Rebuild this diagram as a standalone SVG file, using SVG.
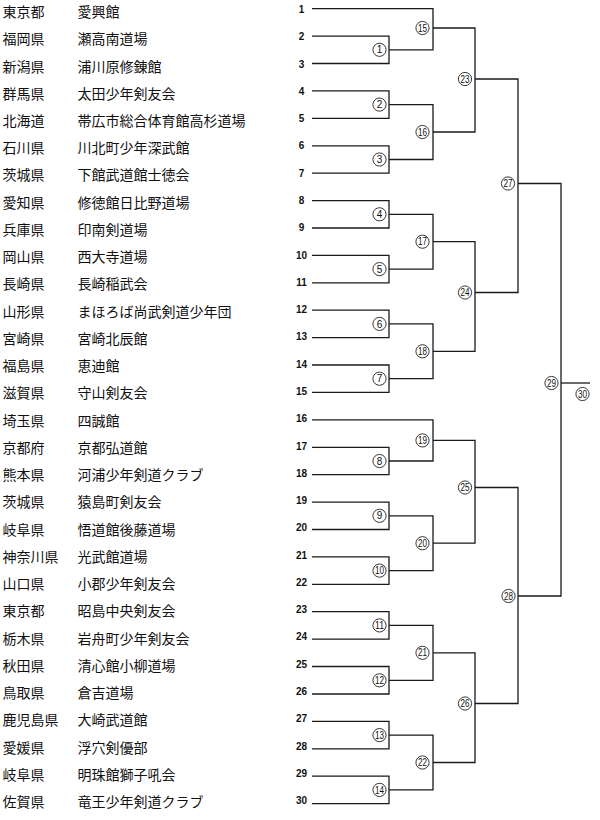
<svg xmlns="http://www.w3.org/2000/svg" width="600" height="820" viewBox="0 0 600 820">
<style>
.t{font-family:"Noto Sans CJK JP","Noto Sans CJK SC",sans-serif;font-size:14px;fill:#111}
.n{font-family:"Liberation Sans",Arial,sans-serif;font-size:10px;font-weight:bold;fill:#111;text-anchor:middle}
.c{fill:#fff;stroke:#222;stroke-width:0.9}
.cn{font-family:"Liberation Sans",Arial,sans-serif;font-size:10px;fill:#111;text-anchor:middle}
.ln{fill:none;stroke:#1a1a1a;stroke-width:1.3}
</style>
<rect width="600" height="820" fill="#fff"/>
<g id="teams">
<g id="team-1"><text class="t" x="2.5" y="17">東京都</text><text class="t" x="77.5" y="17">愛興館</text><text class="n" x="301.5" y="13">1</text></g>
<g id="team-2"><text class="t" x="2.5" y="44.2">福岡県</text><text class="t" x="77.5" y="44.2">瀬高南道場</text><text class="n" x="301.5" y="40.3">2</text></g>
<g id="team-3"><text class="t" x="2.5" y="71.5">新潟県</text><text class="t" x="77.5" y="71.5">浦川原修錬館</text><text class="n" x="301.5" y="67.6">3</text></g>
<g id="team-4"><text class="t" x="2.5" y="98.7">群馬県</text><text class="t" x="77.5" y="98.7">太田少年剣友会</text><text class="n" x="301.5" y="94.8">4</text></g>
<g id="team-5"><text class="t" x="2.5" y="126">北海道</text><text class="t" x="77.5" y="126">帯広市総合体育館高杉道場</text><text class="n" x="301.5" y="122.1">5</text></g>
<g id="team-6"><text class="t" x="2.5" y="153.2">石川県</text><text class="t" x="77.5" y="153.2">川北町少年深武館</text><text class="n" x="301.5" y="149.4">6</text></g>
<g id="team-7"><text class="t" x="2.5" y="180.4">茨城県</text><text class="t" x="77.5" y="180.4">下館武道館士徳会</text><text class="n" x="301.5" y="176.7">7</text></g>
<g id="team-8"><text class="t" x="2.5" y="207.7">愛知県</text><text class="t" x="77.5" y="207.7">修徳館日比野道場</text><text class="n" x="301.5" y="204">8</text></g>
<g id="team-9"><text class="t" x="2.5" y="234.9">兵庫県</text><text class="t" x="77.5" y="234.9">印南剣道場</text><text class="n" x="301.5" y="231.2">9</text></g>
<g id="team-10"><text class="t" x="2.5" y="262.2">岡山県</text><text class="t" x="77.5" y="262.2">西大寺道場</text><text class="n" x="301.5" y="258.5">10</text></g>
<g id="team-11"><text class="t" x="2.5" y="289.4">長崎県</text><text class="t" x="77.5" y="289.4">長崎稲武会</text><text class="n" x="301.5" y="285.8">11</text></g>
<g id="team-12"><text class="t" x="2.5" y="316.6">山形県</text><text class="t" x="77.5" y="316.6">まほろば尚武剣道少年団</text><text class="n" x="301.5" y="313.1">12</text></g>
<g id="team-13"><text class="t" x="2.5" y="343.9">宮崎県</text><text class="t" x="77.5" y="343.9">宮崎北辰館</text><text class="n" x="301.5" y="340.4">13</text></g>
<g id="team-14"><text class="t" x="2.5" y="371.1">福島県</text><text class="t" x="77.5" y="371.1">恵迪館</text><text class="n" x="301.5" y="367.6">14</text></g>
<g id="team-15"><text class="t" x="2.5" y="398.4">滋賀県</text><text class="t" x="77.5" y="398.4">守山剣友会</text><text class="n" x="301.5" y="394.9">15</text></g>
<g id="team-16"><text class="t" x="2.5" y="425.6">埼玉県</text><text class="t" x="77.5" y="425.6">四誠館</text><text class="n" x="301.5" y="422.2">16</text></g>
<g id="team-17"><text class="t" x="2.5" y="452.8">京都府</text><text class="t" x="77.5" y="452.8">京都弘道館</text><text class="n" x="301.5" y="449.5">17</text></g>
<g id="team-18"><text class="t" x="2.5" y="480.1">熊本県</text><text class="t" x="77.5" y="480.1">河浦少年剣道クラブ</text><text class="n" x="301.5" y="476.8">18</text></g>
<g id="team-19"><text class="t" x="2.5" y="507.3">茨城県</text><text class="t" x="77.5" y="507.3">猿島町剣友会</text><text class="n" x="301.5" y="504">19</text></g>
<g id="team-20"><text class="t" x="2.5" y="534.6">岐阜県</text><text class="t" x="77.5" y="534.6">悟道館後藤道場</text><text class="n" x="301.5" y="531.3">20</text></g>
<g id="team-21"><text class="t" x="2.5" y="561.8">神奈川県</text><text class="t" x="77.5" y="561.8">光武館道場</text><text class="n" x="301.5" y="558.6">21</text></g>
<g id="team-22"><text class="t" x="2.5" y="589">山口県</text><text class="t" x="77.5" y="589">小郡少年剣友会</text><text class="n" x="301.5" y="585.9">22</text></g>
<g id="team-23"><text class="t" x="2.5" y="616.3">東京都</text><text class="t" x="77.5" y="616.3">昭島中央剣友会</text><text class="n" x="301.5" y="613.2">23</text></g>
<g id="team-24"><text class="t" x="2.5" y="643.5">栃木県</text><text class="t" x="77.5" y="643.5">岩舟町少年剣友会</text><text class="n" x="301.5" y="640.4">24</text></g>
<g id="team-25"><text class="t" x="2.5" y="670.8">秋田県</text><text class="t" x="77.5" y="670.8">清心館小柳道場</text><text class="n" x="301.5" y="667.7">25</text></g>
<g id="team-26"><text class="t" x="2.5" y="698">鳥取県</text><text class="t" x="77.5" y="698">倉吉道場</text><text class="n" x="301.5" y="695">26</text></g>
<g id="team-27"><text class="t" x="2.5" y="725.2">鹿児島県</text><text class="t" x="77.5" y="725.2">大崎武道館</text><text class="n" x="301.5" y="722.3">27</text></g>
<g id="team-28"><text class="t" x="2.5" y="752.5">愛媛県</text><text class="t" x="77.5" y="752.5">浮穴剣優部</text><text class="n" x="301.5" y="749.6">28</text></g>
<g id="team-29"><text class="t" x="2.5" y="779.7">岐阜県</text><text class="t" x="77.5" y="779.7">明珠館獅子吼会</text><text class="n" x="301.5" y="776.8">29</text></g>
<g id="team-30"><text class="t" x="2.5" y="807">佐賀県</text><text class="t" x="77.5" y="807">竜王少年剣道クラブ</text><text class="n" x="301.5" y="804.1">30</text></g>
</g>
<g id="connectors" class="ln">
<path d="M312 36.1H389V63.5H312"/>
<path d="M312 90.9H389V118.3H312"/>
<path d="M312 145.8H389V173.2H312"/>
<path d="M312 200.6H389V228H312"/>
<path d="M312 255.4H389V282.8H312"/>
<path d="M312 310.2H389V337.6H312"/>
<path d="M312 365H389V392.4H312"/>
<path d="M312 447.3H389V474.7H312"/>
<path d="M312 502.1H389V529.5H312"/>
<path d="M312 556.9H389V584.3H312"/>
<path d="M312 611.7H389V639.1H312"/>
<path d="M312 666.5H389V694H312"/>
<path d="M312 721.4H389V748.8H312"/>
<path d="M312 776.2H389V803.6H312"/>
<path d="M312 8.7H433V49.8H389"/>
<path d="M389 104.6H433V159.5H389"/>
<path d="M389 214.3H433V269.1H389"/>
<path d="M389 323.9H433V378.7H389"/>
<path d="M312 419.9H433V461H389"/>
<path d="M389 515.8H433V570.6H389"/>
<path d="M389 625.4H433V680.3H389"/>
<path d="M389 735.1H433V789.9H389"/>
<path d="M433 28H475V132H433"/>
<path d="M433 241.7H475V351.3H433"/>
<path d="M433 440.4H475V543.2H433"/>
<path d="M433 652.8H475V762.5H433"/>
<path d="M475 79H518V292.5H475"/>
<path d="M475 487.5H518V703.5H475"/>
<path d="M518 183.5H561V596H518"/>
<path d="M561 383H590"/>
</g>
<g id="matches">
<g id="m1"><circle class="c" cx="379.5" cy="49.8" r="6.6"/><text class="cn" x="379.5" y="53.4">1</text></g>
<g id="m2"><circle class="c" cx="379.5" cy="104.6" r="6.6"/><text class="cn" x="379.5" y="108.2">2</text></g>
<g id="m3"><circle class="c" cx="379.5" cy="159.5" r="6.6"/><text class="cn" x="379.5" y="163.1">3</text></g>
<g id="m4"><circle class="c" cx="379.5" cy="214.3" r="6.6"/><text class="cn" x="379.5" y="217.9">4</text></g>
<g id="m5"><circle class="c" cx="379.5" cy="269.1" r="6.6"/><text class="cn" x="379.5" y="272.7">5</text></g>
<g id="m6"><circle class="c" cx="379.5" cy="323.9" r="6.6"/><text class="cn" x="379.5" y="327.5">6</text></g>
<g id="m7"><circle class="c" cx="379.5" cy="378.7" r="6.6"/><text class="cn" x="379.5" y="382.3">7</text></g>
<g id="m8"><circle class="c" cx="379.5" cy="461" r="6.6"/><text class="cn" x="379.5" y="464.6">8</text></g>
<g id="m9"><circle class="c" cx="379.5" cy="515.8" r="6.6"/><text class="cn" x="379.5" y="519.4">9</text></g>
<g id="m10"><circle class="c" cx="379.5" cy="570.6" r="6.6"/><text class="cn" x="379.5" y="574.2" textLength="9" lengthAdjust="spacingAndGlyphs">10</text></g>
<g id="m11"><circle class="c" cx="379.5" cy="625.4" r="6.6"/><text class="cn" x="379.5" y="629" textLength="9" lengthAdjust="spacingAndGlyphs">11</text></g>
<g id="m12"><circle class="c" cx="379.5" cy="680.3" r="6.6"/><text class="cn" x="379.5" y="683.9" textLength="9" lengthAdjust="spacingAndGlyphs">12</text></g>
<g id="m13"><circle class="c" cx="379.5" cy="735.1" r="6.6"/><text class="cn" x="379.5" y="738.7" textLength="9" lengthAdjust="spacingAndGlyphs">13</text></g>
<g id="m14"><circle class="c" cx="379.5" cy="789.9" r="6.6"/><text class="cn" x="379.5" y="793.5" textLength="9" lengthAdjust="spacingAndGlyphs">14</text></g>
<g id="m15"><circle class="c" cx="422.5" cy="28" r="6.6"/><text class="cn" x="422.5" y="31.6" textLength="9" lengthAdjust="spacingAndGlyphs">15</text></g>
<g id="m16"><circle class="c" cx="422.5" cy="132" r="6.6"/><text class="cn" x="422.5" y="135.6" textLength="9" lengthAdjust="spacingAndGlyphs">16</text></g>
<g id="m17"><circle class="c" cx="422.5" cy="241.7" r="6.6"/><text class="cn" x="422.5" y="245.3" textLength="9" lengthAdjust="spacingAndGlyphs">17</text></g>
<g id="m18"><circle class="c" cx="422.5" cy="351.3" r="6.6"/><text class="cn" x="422.5" y="354.9" textLength="9" lengthAdjust="spacingAndGlyphs">18</text></g>
<g id="m19"><circle class="c" cx="422.5" cy="440.4" r="6.6"/><text class="cn" x="422.5" y="444" textLength="9" lengthAdjust="spacingAndGlyphs">19</text></g>
<g id="m20"><circle class="c" cx="422.5" cy="543.2" r="6.6"/><text class="cn" x="422.5" y="546.8" textLength="9" lengthAdjust="spacingAndGlyphs">20</text></g>
<g id="m21"><circle class="c" cx="422.5" cy="652.8" r="6.6"/><text class="cn" x="422.5" y="656.4" textLength="9" lengthAdjust="spacingAndGlyphs">21</text></g>
<g id="m22"><circle class="c" cx="422.5" cy="762.5" r="6.6"/><text class="cn" x="422.5" y="766.1" textLength="9" lengthAdjust="spacingAndGlyphs">22</text></g>
<g id="m23"><circle class="c" cx="465" cy="79" r="6.6"/><text class="cn" x="465" y="82.6" textLength="9" lengthAdjust="spacingAndGlyphs">23</text></g>
<g id="m24"><circle class="c" cx="465" cy="292.5" r="6.6"/><text class="cn" x="465" y="296.1" textLength="9" lengthAdjust="spacingAndGlyphs">24</text></g>
<g id="m25"><circle class="c" cx="465" cy="487.5" r="6.6"/><text class="cn" x="465" y="491.1" textLength="9" lengthAdjust="spacingAndGlyphs">25</text></g>
<g id="m26"><circle class="c" cx="465" cy="703.5" r="6.6"/><text class="cn" x="465" y="707.1" textLength="9" lengthAdjust="spacingAndGlyphs">26</text></g>
<g id="m27"><circle class="c" cx="508" cy="183.5" r="6.6"/><text class="cn" x="508" y="187.1" textLength="9" lengthAdjust="spacingAndGlyphs">27</text></g>
<g id="m28"><circle class="c" cx="508.5" cy="596" r="6.6"/><text class="cn" x="508.5" y="599.6" textLength="9" lengthAdjust="spacingAndGlyphs">28</text></g>
<g id="m29"><circle class="c" cx="551.5" cy="383" r="6.6"/><text class="cn" x="551.5" y="386.6" textLength="9" lengthAdjust="spacingAndGlyphs">29</text></g>
<g id="m30"><circle class="c" cx="582.5" cy="394" r="6.6"/><text class="cn" x="582.5" y="397.6" textLength="9" lengthAdjust="spacingAndGlyphs">30</text></g>
</g>
</svg>
